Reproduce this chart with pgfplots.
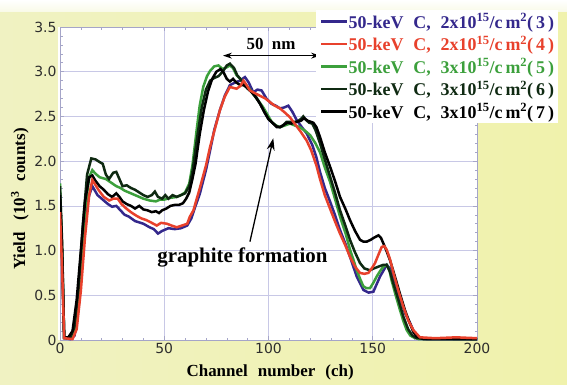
\documentclass[border=0pt]{standalone}
\usepackage{pgfplots}
\pgfplotsset{compat=1.18}
\usetikzlibrary{arrows.meta}
\usepackage{fontspec}
\setmainfont{Liberation Serif}
\newfontfamily\sansf{DejaVu Sans}
\definecolor{c3}{RGB}{52,40,140}
\definecolor{c4}{RGB}{232,65,44}
\definecolor{c5}{RGB}{60,160,60}
\definecolor{c6}{RGB}{15,42,18}
\definecolor{c7}{RGB}{0,0,0}
\definecolor{gridc}{RGB}{200,200,230}
\definecolor{axc}{RGB}{165,165,200}
\definecolor{tickc}{RGB}{45,45,45}
\definecolor{bgl}{RGB}{240,242,194}
\definecolor{bgr}{RGB}{240,242,172}

\pgfplotstableread{
x y
0 1.40
1 0.9
2 0.02
5 0.01
7 0.05
9 0.4
11 1.1
13 1.55
15.5 1.72
18 1.62
20 1.58
23 1.52
25 1.49
27 1.50
29 1.45
31 1.40
33 1.38
36 1.33
40 1.30
43 1.26
45 1.24
47 1.19
49 1.22
52 1.25
55 1.24
58 1.25
61 1.28
63 1.36
65 1.50
67 1.63
70 1.90
72 2.12
74 2.35
76.7 2.57
79 2.73
81.5 2.85
84 2.88
86.3 2.90
88.7 2.94
90.5 2.88
92.7 2.77
94.7 2.80
96.7 2.79
99 2.70
101.5 2.64
103.5 2.62
105.5 2.59
107.5 2.60
109.5 2.62
111.5 2.55
113.5 2.46
116 2.38
118.3 2.31
121 2.18
123 2.04
124.7 1.88
127 1.70
129.5 1.55
132 1.39
134.3 1.23
137 1.07
139.1 0.93
142.3 0.71
145.5 0.56
148 0.53
150.3 0.54
153.5 0.71
156.7 0.84
159 0.78
161 0.63
163 0.48
165.5 0.30
167.9 0.19
170 0.08
172.6 0.03
176 0.01
200 0.01
}\tthree

\pgfplotstableread{
x y
0 1.43
1 0.8
2 0.02
6 0.01
8 0.12
10 0.55
12 1.15
14 1.62
15.5 1.79
18.7 1.67
21 1.60
23.6 1.56
25.5 1.58
27.7 1.58
29.5 1.52
31.8 1.47
34 1.43
36.6 1.39
39 1.36
41.5 1.34
44 1.31
46.4 1.28
48.5 1.31
51.3 1.30
53.5 1.28
56 1.26
58.5 1.28
61 1.30
62.3 1.38
64 1.45
67.2 1.71
70 1.95
72 2.16
74.5 2.38
76.7 2.57
79 2.72
81.5 2.83
83 2.82
84.7 2.81
86.5 2.84
88 2.90
89.5 2.85
91.1 2.79
93.5 2.76
96 2.73
98.5 2.70
100.7 2.66
103 2.62
105.5 2.59
108 2.54
110.3 2.49
112.5 2.42
115.1 2.34
118.3 2.23
120.5 2.12
123 1.95
124.7 1.80
127 1.62
129.5 1.47
132 1.32
134.3 1.19
137 1.05
139.1 0.93
141.5 0.82
143.9 0.75
146 0.74
147.9 0.75
149.5 0.80
151.1 0.86
153 0.97
154.3 1.04
155.5 1.05
156.7 1.01
158.3 0.90
159.9 0.75
162.3 0.55
164.7 0.37
167 0.22
169.5 0.11
172.6 0.03
180 0.02
190 0.03
200 0.02
}\tfour

\pgfplotstableread{
x y
0 1.75
1 1.0
2 0.02
6 0.02
8 0.2
10 0.8
12 1.45
14 1.82
15.5 1.90
17 1.86
19 1.82
22 1.80
24.5 1.76
27 1.72
29 1.70
31 1.67
33 1.65
36 1.62
40 1.58
43 1.56
46 1.55
48 1.57
50 1.57
53 1.59
56 1.60
58 1.62
60 1.65
62 1.75
63.5 1.95
65.5 2.34
67 2.62
68.7 2.83
70.5 2.95
72 3.01
74 3.06
76 3.07
78 3.03
80 3.05
81.5 3.07
83 3.04
84.7 2.96
86.5 2.92
88 2.87
90.5 2.82
92.7 2.75
95 2.68
97.5 2.60
99.5 2.52
101.5 2.44
103.5 2.40
105.5 2.38
108 2.40
110.3 2.42
112.5 2.40
115 2.38
117.5 2.34
120 2.29
122.5 2.20
124.7 2.10
127 1.93
129.5 1.77
132 1.57
134.3 1.38
137 1.19
139.1 1.01
140.7 0.90
142.3 0.78
144 0.68
145.5 0.60
147 0.58
148.7 0.58
150.3 0.64
151.9 0.71
153.5 0.77
155.1 0.82
156.7 0.84
158 0.78
159 0.67
161 0.50
163 0.34
164.7 0.21
166.3 0.11
168 0.05
169.5 0.03
172 0.01
200 0.01
}\tfive

\pgfplotstableread{
x y
0 1.72
1 1.1
2 0.03
5 0.03
7 0.15
9 0.6
11 1.3
13 1.85
15 2.03
17 2.02
19 1.99
20.5 1.97
22 1.85
23.5 1.80
25.5 1.87
27 1.88
28.5 1.80
30 1.72
32 1.73
34 1.70
36 1.68
38 1.65
40 1.62
42 1.60
44 1.62
45.5 1.66
47 1.60
49 1.58
50.5 1.62
52 1.58
54 1.62
56 1.60
58 1.62
60 1.64
62 1.72
63.5 1.88
66 2.30
68 2.60
70 2.80
72 2.90
74 2.93
76 2.95
78 3.00
80 3.07
81.5 3.09
83.5 3.04
85 2.96
86.5 2.92
88 2.86
90 2.81
92 2.77
94 2.72
96 2.64
98 2.55
100 2.47
102.3 2.42
104 2.39
105.5 2.38
107 2.40
108.7 2.44
111 2.44
113.5 2.44
115.5 2.47
116.7 2.50
118 2.46
119.5 2.43
121 2.42
122.5 2.35
124.7 2.20
127 2.02
129.5 1.83
132 1.64
134.3 1.45
137 1.27
139.1 1.12
141.5 0.98
143.9 0.86
146 0.80
148.7 0.78
150.5 0.80
152.7 0.82
155 0.84
156.7 0.84
158.3 0.76
159.9 0.63
162.3 0.45
164.7 0.26
167 0.12
169 0.05
171 0.02
200 0.01
}\tsix

\pgfplotstableread{
x y
0 1.62
1 1.0
2 0.03
4 0.03
6 0.10
8 0.45
10 1.0
12 1.55
14 1.82
15.5 1.84
17 1.78
19 1.72
21 1.68
23 1.63
25 1.60
27 1.64
28.5 1.60
30 1.55
32 1.52
34 1.50
36 1.47
38 1.50
40 1.46
42 1.45
44 1.43
46 1.44
47.5 1.42
49 1.45
51 1.47
53 1.50
55 1.51
57 1.51
59 1.53
60.5 1.58
62 1.65
63.5 1.80
65 1.97
67 2.30
69 2.57
71 2.78
73 2.92
75 3.00
77 3.03
78.5 2.99
80 2.92
81.5 2.89
83 2.92
84.5 2.88
86.5 2.85
88 2.85
90 2.82
92 2.77
94 2.71
96 2.64
98 2.55
100 2.47
102.3 2.42
104 2.38
105.5 2.38
107 2.40
109 2.43
111 2.42
113.5 2.44
115.5 2.45
117 2.48
119 2.45
121.5 2.43
123 2.38
124.7 2.27
127 2.10
129.5 1.94
132 1.77
134.3 1.60
137 1.46
139.1 1.34
141.5 1.22
143.9 1.12
145.5 1.10
147.1 1.10
149 1.12
150.3 1.14
152.7 1.17
154 1.14
155.1 1.08
156.7 0.99
158.3 0.89
160.5 0.72
163 0.52
165.5 0.33
167.9 0.18
169.5 0.09
171 0.04
174.3 0.01
200 0.01
}\tseven

\begin{document}
\begin{tikzpicture}
\shade[left color=bgl, right color=bgr] (-60bp,-45bp) rectangle (507bp,340bp);
\shade[top color=white, bottom color=white!60!bgl] (-60bp,328bp) rectangle (507bp,340bp);
\fill[white] (-2bp,0bp) rectangle (417bp,313bp);
\begin{axis}[
  at={(0,0)}, anchor=south west,
  width=417bp, height=313bp, scale only axis,
  xmin=0, xmax=200, ymin=0, ymax=3.5,
  xtick={0,50,100,150,200},
  ytick={0,0.5,1,1.5,2,2.5,3,3.5},
  yticklabels={0,0.5,1.0,1.5,2.0,2.5,3.0,3.5},
  minor x tick num=4, minor y tick num=4,
  tick align=inside,
  grid=major,
  major grid style={color=gridc, line width=0.7bp},
  axis line style={color=axc, line width=0.7bp},
  tick style={color=axc, line width=0.6bp},
  major tick length=4bp, minor tick length=2.5bp,
  /pgf/number format/assume math mode=true,
  ticklabel style={font=\sansf\fontsize{14}{16}\selectfont, color=tickc},
  xlabel={Channel\hspace{0.6em}number\hspace{0.6em}(ch)},
  xlabel style={font=\fontsize{17}{19}\selectfont\bfseries, at={(axis description cs:0.504,-0.102)}, anchor=center},
  ylabel={Yield\hspace{0.7em}(10\textsuperscript{3}\hspace{0.6em}counts)},
  ylabel style={font=\fontsize{17}{19}\selectfont\bfseries, at={(axis description cs:-0.096,0.45)}, anchor=center},
  legend style={at={(axis description cs:0.614,1.054)}, anchor=north west,
    draw=none, fill=white, inner xsep=4bp, inner ysep=0bp,
    font=\fontsize{18}{20}\selectfont\bfseries,
    nodes={inner sep=0bp, minimum height=22.5bp},
    row sep=0bp},
  legend cell align=left,
  legend image code/.code={\draw[#1, line width=2.5bp] (0bp,0bp) -- (26bp,0bp);},
]
\addlegendimage{c3}
\addlegendentry{\textcolor{c3}{50-keV\hspace{0.55em}C,\hspace{0.55em}2x10\textsuperscript{15}/c\,m\textsuperscript{2}(\,3\,)}}
\addlegendimage{c4}
\addlegendentry{\textcolor{c4}{50-keV\hspace{0.55em}C,\hspace{0.55em}2x10\textsuperscript{15}/c\,m\textsuperscript{2}(\,4\,)}}
\addlegendimage{c5}
\addlegendentry{\textcolor{c5}{50-keV\hspace{0.55em}C,\hspace{0.55em}3x10\textsuperscript{15}/c\,m\textsuperscript{2}(\,5\,)}}
\addlegendimage{c6}
\addlegendentry{\textcolor{c6}{50-keV\hspace{0.55em}C,\hspace{0.55em}3x10\textsuperscript{15}/c\,m\textsuperscript{2}(\,6\,)}}
\addlegendimage{c7}
\addlegendentry{\textcolor{c7}{50-keV\hspace{0.55em}C,\hspace{0.55em}3x10\textsuperscript{15}/c\,m\textsuperscript{2}(\,7\,)}}

\addplot[c3, line width=2.5bp, forget plot] table {\tthree};
\addplot[c5, line width=2.5bp, forget plot] table {\tfive};
\addplot[c6, line width=2.5bp, forget plot] table {\tsix};
\addplot[c7, line width=2.5bp, forget plot] table {\tseven};
\addplot[c4, line width=2.5bp, forget plot] table {\tfour};

\node[font=\fontsize{21}{23}\selectfont\bfseries] at (axis cs:87.5,0.92) {graphite formation};
\draw[-{Stealth[length=12bp,width=8bp]}, line width=1.3bp] (axis cs:91.1,1.10) -- (axis cs:102.3,2.256);
\node[font=\fontsize{17}{19}\selectfont\bfseries] at (axis cs:101.2,3.31) {50\hspace{0.5em}nm};
\draw[{Stealth[length=9bp,width=6bp]}-{Stealth[length=9bp,width=6bp]}, line width=1.2bp] (axis cs:78.2,3.18) -- (axis cs:124.7,3.18);
\end{axis}
\pgfresetboundingbox
\path (-60bp,-45bp) rectangle (507bp,340bp);
\end{tikzpicture}
\end{document}
